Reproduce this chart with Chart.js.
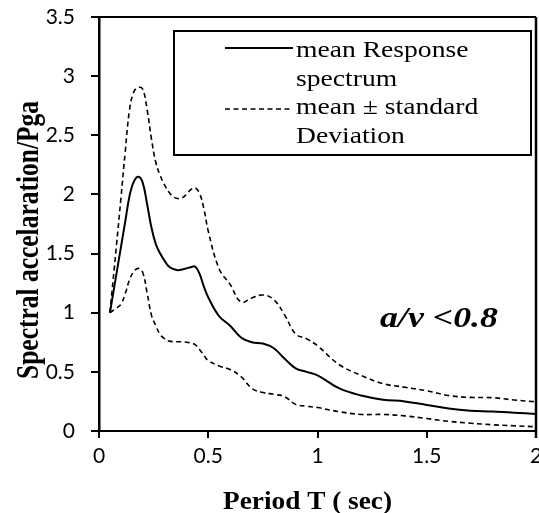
<!DOCTYPE html>
<html>
<head>
<meta charset="utf-8">
<script src="https://cdn.jsdelivr.net/npm/chart.js@4.4.1/dist/chart.umd.min.js"></script>
<style>
html,body{margin:0;padding:0;background:#fff;}
canvas{display:block;}
</style>
</head>
<body>
<canvas id="c" width="539" height="513"></canvas>
<script>
// Period T (sec)
const periods = [0.05,0.08,0.10,0.12,0.14,0.16,0.18,0.20,0.22,0.24,0.26,0.28,0.30,0.32,0.34,0.36,0.38,0.40,0.42,0.44,0.46,0.48,0.50,0.55,0.60,0.65,0.70,0.75,0.80,0.85,0.90,0.95,1.0,1.1,1.2,1.3,1.4,1.5,1.6,1.7,1.8,1.9,2.0];
const meanSpectrum = [1.0,1.33,1.55,1.77,1.99,2.11,2.15,2.10,1.92,1.72,1.58,1.50,1.44,1.39,1.37,1.36,1.365,1.375,1.385,1.39,1.33,1.22,1.13,0.97,0.89,0.79,0.75,0.74,0.70,0.61,0.53,0.50,0.47,0.36,0.30,0.265,0.25,0.22,0.19,0.172,0.165,0.155,0.143];
const meanPlusStd = [1.0,1.57,1.96,2.36,2.72,2.87,2.905,2.89,2.72,2.47,2.27,2.16,2.08,2.02,1.98,1.965,1.97,2.00,2.04,2.055,2.01,1.88,1.69,1.37,1.24,1.09,1.125,1.15,1.11,0.98,0.82,0.78,0.72,0.56,0.47,0.40,0.37,0.34,0.30,0.284,0.282,0.262,0.247];
const meanMinusStd = [1.0,1.04,1.07,1.16,1.28,1.35,1.375,1.34,1.17,0.98,0.89,0.815,0.78,0.76,0.755,0.755,0.754,0.75,0.745,0.73,0.69,0.64,0.595,0.55,0.52,0.46,0.36,0.325,0.31,0.29,0.225,0.21,0.198,0.163,0.14,0.14,0.128,0.105,0.082,0.066,0.053,0.044,0.036];
const xTickLabels = ["0","0.5","1","1.5","2"];
const yTickLabels = ["0","0.5","1","1.5","2","2.5","3","3.5"];
const legendLines = ["mean Response","spectrum","mean \u00B1 standard","Deviation"];
const xTitle = "Period T ( sec)";
const yTitle = "Spectral accelaration/Pga";
const noteText = "a/v <0.8";

const pts = arr => periods.map((t,i)=>({x:t,y:arr[i]}));
const DASH = [5,3.5];
const SERIF = '"Liberation Serif", "Times New Roman", Times, serif';

const deco = {
  id:'deco',
  afterDraw(chart){
    const ctx = chart.ctx, a = chart.chartArea;
    ctx.save();
    // top & right frame
    ctx.strokeStyle='#000';
    ctx.lineWidth=2;
    ctx.beginPath();
    ctx.moveTo(a.left-8, a.top); ctx.lineTo(a.right, a.top);
    ctx.stroke();
    ctx.lineWidth=2.5;
    ctx.beginPath();
    ctx.moveTo(a.right, a.top); ctx.lineTo(a.right, a.bottom+7);
    ctx.stroke();

    // legend box
    ctx.fillStyle='#fff';
    ctx.fillRect(175,32,355,122);
    ctx.lineWidth=2;
    ctx.strokeRect(174,31,357,124);
    ctx.beginPath(); ctx.moveTo(225,48); ctx.lineTo(293,48); ctx.stroke();
    ctx.lineWidth=1.5; ctx.setLineDash(DASH);
    ctx.beginPath(); ctx.moveTo(225,109); ctx.lineTo(293,109); ctx.stroke();
    ctx.setLineDash([]);

    ctx.fillStyle='#000';
    ctx.textBaseline='alphabetic';
    ctx.textAlign='left';
    ctx.font='23px ' + SERIF;
    const base=[57,85.5,114,143];
    legendLines.forEach((s,i)=>{
      ctx.save(); ctx.translate(296,base[i]); ctx.scale(1.2,1); ctx.fillText(s,0,0); ctx.restore();
    });

    // note
    ctx.font='italic bold 30px ' + SERIF;
    let w = ctx.measureText(noteText).width;
    ctx.save(); ctx.translate(380,327); ctx.scale(118/w,1); ctx.fillText(noteText,0,0); ctx.restore();

    // x title
    ctx.font='bold 26px ' + SERIF;
    ctx.textAlign='center';
    w = ctx.measureText(xTitle).width;
    ctx.save(); ctx.translate(307.5,509); ctx.scale(169/w,1); ctx.fillText(xTitle,0,0); ctx.restore();

    // y title
    ctx.font='bold 26px ' + SERIF;
    w = ctx.measureText(yTitle).width;
    ctx.save(); ctx.translate(37.5,240); ctx.rotate(-Math.PI/2); ctx.scale(278/w,1.2); ctx.fillText(yTitle,0,0); ctx.restore();
    ctx.restore();
  }
};

new Chart(document.getElementById('c'),{
  type:'line',
  data:{datasets:[
    {label:'mean Response spectrum',data:pts(meanSpectrum),borderColor:'#000',borderWidth:2,pointRadius:0,fill:false,tension:0.4},
    {label:'mean + standard Deviation',data:pts(meanPlusStd),borderColor:'#000',borderWidth:1.6,borderDash:DASH,pointRadius:0,fill:false,tension:0.4},
    {label:'mean - standard Deviation',data:pts(meanMinusStd),borderColor:'#000',borderWidth:1.6,borderDash:DASH,pointRadius:0,fill:false,tension:0.4}
  ]},
  options:{
    responsive:false,
    animation:false,
    devicePixelRatio:1,
    layout:{padding:{top:17,right:3,left:0,bottom:0}},
    plugins:{legend:{display:false},tooltip:{enabled:false}},
    scales:{
      x:{
        type:'linear',min:0,max:2,
        afterBuildTicks(s){ s.ticks = xTickLabels.map(v=>({value:parseFloat(v)})); },
        afterFit(s){ s.height=82; s.paddingLeft=0; s.paddingRight=0; },
        ticks:{color:'#000',padding:6,maxRotation:0,autoSkip:false,font:{family:'Lato, "Open Sans", sans-serif',size:21},
          callback:(v,i)=>xTickLabels[i]},
        grid:{drawOnChartArea:false,drawTicks:true,tickLength:7,color:'#000',lineWidth:2},
        border:{display:true,color:'#000',width:2}
      },
      y:{
        min:0,max:3.5,
        afterBuildTicks(s){ s.ticks = yTickLabels.map(v=>({value:parseFloat(v)})); },
        afterFit(s){ s.width=99; s.paddingTop=0; s.paddingBottom=0; },
        ticks:{color:'#000',padding:16,autoSkip:false,font:{family:'Lato, "Open Sans", sans-serif',size:21},
          callback:(v,i)=>yTickLabels[i]},
        grid:{drawOnChartArea:false,drawTicks:true,tickLength:8,color:'#000',lineWidth:2},
        border:{display:true,color:'#000',width:2.5}
      }
    }
  },
  plugins:[deco]
});
</script>
</body>
</html>
